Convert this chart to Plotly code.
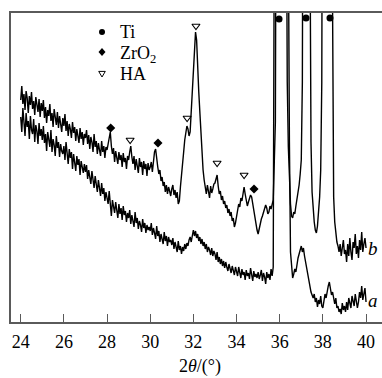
import plotly.graph_objects as go

# 2theta sampling grid (degrees): 24.00 ... 40.00 in 0.05 steps
two_theta = [round(24.0 + 0.05 * i, 2) for i in range(321)]

# Curve a (lower), intensity (a.u.), one row per degree
curve_a = (
    [205, 190, 214, 198, 186, 209, 195, 201, 183, 206, 192, 188, 203, 180, 197, 191, 178, 199, 186, 193]  # 24
    + [182, 196, 179, 188, 171, 190, 184, 175, 192, 170, 183, 177, 166, 186, 174, 180, 165, 178, 171, 168]  # 25
    + [176, 162, 180, 167, 158, 173, 164, 170, 153, 168, 160, 151, 166, 157, 163, 147, 161, 154, 149, 158]  # 26
    + [150, 157, 143, 152, 146, 138, 151, 141, 134, 146, 137, 130, 142, 133, 126, 139, 128, 134, 121, 130]  # 27
    + [124, 118, 131, 113, 106, 122, 115, 109, 120, 111, 104, 118, 108, 114, 102, 116, 107, 111, 100, 109]  # 28
    + [104, 112, 98, 107, 101, 95, 110, 99, 104, 93, 101, 97, 90, 103, 94, 99, 89, 97, 92, 95]  # 29
    + [91, 99, 87, 94, 89, 83, 96, 86, 91, 80, 88, 84, 78, 90, 81, 86, 76, 85, 80, 82]  # 30
    + [77, 84, 73, 80, 75, 70, 81, 72, 76, 68, 75, 71, 78, 73, 79, 76, 82, 85, 80, 88]  # 31
    + [92, 86, 91, 84, 88, 81, 85, 78, 83, 76, 80, 73, 78, 70, 75, 72, 67, 74, 66, 71]  # 32
    + [68, 62, 70, 60, 65, 58, 63, 56, 61, 54, 60, 55, 51, 58, 53, 49, 56, 52, 47, 55]  # 33
    + [51, 46, 55, 48, 44, 53, 47, 50, 42, 52, 46, 49, 43, 54, 47, 41, 51, 45, 48, 44]  # 34
    + [50, 43, 47, 52, 41, 49, 45, 38, 50, 44, 48, 42, 53, 46, 55, 400, 1200, 2000, 2600, 2900]  # 35
    + [3000, 2900, 2700, 2400, 2000, 1500, 1000, 600, 360, 180, 70, 52, 44, 48, 53, 50, 60, 64, 68, 72]  # 36
    + [76, 70, 74, 66, 60, 52, 45, 40, 36, 30, 27, 24, 28, 20, 24, 15, 22, 18, 26, 16]  # 37
    + [14, 22, 28, 24, 32, 36, 40, 33, 27, 30, 22, 18, 24, 14, 16, 10, 13, 8, 19, 12]  # 38
    + [16, 10, 20, 12, 24, 18, 14, 26, 20, 16, 28, 22, 14, 20, 30, 24, 36, 22, 28, 34]  # 39
    + [20]  # 40
)

# Curve b (upper)
curve_b = (
    [222, 236, 218, 228, 212, 231, 224, 209, 226, 217, 230, 213, 221, 207, 225, 216, 210, 223, 205, 219]  # 24
    + [211, 222, 204, 215, 199, 212, 206, 218, 201, 209, 195, 213, 203, 197, 210, 194, 206, 199, 190, 204]  # 25
    + [196, 208, 191, 201, 186, 198, 193, 184, 200, 189, 195, 181, 193, 186, 179, 194, 183, 190, 177, 188]  # 26
    + [184, 192, 178, 187, 173, 185, 180, 170, 188, 175, 181, 168, 179, 172, 166, 181, 170, 176, 164, 175]  # 27
    + [172, 178, 186, 190, 176, 168, 174, 160, 171, 165, 158, 170, 162, 167, 155, 169, 160, 164, 153, 166]  # 28
    + [162, 170, 176, 165, 158, 166, 152, 163, 157, 149, 164, 155, 160, 147, 161, 153, 158, 146, 159, 152]  # 29
    + [155, 160, 150, 163, 170, 173, 162, 155, 148, 152, 141, 145, 136, 140, 130, 137, 128, 135, 131, 126]  # 30
    + [133, 137, 127, 132, 124, 130, 118, 121, 135, 145, 158, 170, 182, 190, 196, 193, 186, 190, 212, 232]  # 31
    + [252, 272, 290, 282, 250, 230, 210, 188, 170, 152, 142, 133, 128, 137, 131, 124, 136, 129, 133, 138]  # 32
    + [139, 144, 147, 136, 128, 131, 122, 126, 118, 121, 114, 117, 109, 113, 106, 110, 101, 104, 95, 99]  # 33
    + [106, 112, 118, 115, 124, 121, 130, 135, 128, 122, 116, 120, 123, 127, 125, 118, 112, 104, 96, 92]  # 34
    + [88, 94, 97, 103, 106, 110, 112, 117, 114, 108, 110, 116, 113, 118, 122, 160, 200, 600, 1400, 2200]  # 35
    + [2700, 2900, 2800, 2300, 1600, 1000, 500, 240, 175, 140, 118, 106, 104, 110, 108, 116, 122, 128, 137, 148]  # 36
    + [162, 240, 700, 1400, 1600, 1500, 1200, 800, 400, 180, 130, 110, 100, 92, 89, 96, 107, 125, 152, 240]  # 37
    + [700, 1300, 1600, 1700, 1600, 1400, 1100, 800, 500, 250, 125, 100, 88, 80, 76, 70, 78, 66, 74, 82]  # 38
    + [68, 72, 60, 78, 66, 84, 70, 62, 80, 74, 88, 68, 76, 64, 82, 72, 90, 70, 78, 84]  # 39
    + [74]  # 40
)

# Phase markers (position, height)
ti_x = [35.97, 37.22, 38.33]
ti_y = [303, 304, 304]
zro2_x = [28.17, 30.36, 34.81]
zro2_y = [194, 179, 133]
ha_x = [29.07, 31.71, 32.12, 33.10, 34.35]
ha_y = [182, 204, 296, 159, 147]

# In-plot legend (paper coordinates)
legend_names = ["Ti", "ZrO<sub>2</sub>", "HA"]
legend_key_y = [0.9385, 0.8738, 0.8026]
legend_text_y = [0.9385, 0.8673, 0.8026]
LEGEND_KEY_X = 0.2453
LEGEND_TEXT_X = 0.2884

curve_labels = ["a", "b"]
label_x = [40.33, 40.33]
label_y = [22, 74]

x_ticks = [24, 26, 28, 30, 32, 34, 36, 38, 40]
x_title = "2<i>θ</i>/(°)"

SERIF = "Liberation Serif"
AXIS_COLOR = "#5a5a5a"

fig = go.Figure()
for cy in (curve_a, curve_b):
    fig.add_trace(go.Scatter(x=two_theta, y=cy, mode="lines",
                             line=dict(color="black", width=1.4),
                             showlegend=False, hoverinfo="skip"))

fig.add_trace(go.Scatter(x=ti_x, y=ti_y, mode="markers", showlegend=False,
                         marker=dict(symbol="circle", size=7, color="black"),
                         cliponaxis=False))
fig.add_trace(go.Scatter(x=zro2_x, y=zro2_y, mode="markers", showlegend=False,
                         marker=dict(symbol="diamond", size=7, color="black"),
                         cliponaxis=False))
fig.add_trace(go.Scatter(x=ha_x, y=ha_y, mode="markers", showlegend=False,
                         marker=dict(symbol="triangle-down-open", size=7,
                                     color="black", line=dict(width=1.1, color="black")),
                         cliponaxis=False))

# legend keys as pixel-sized shapes anchored in paper coordinates
key_common = dict(xref="paper", yref="paper", xsizemode="pixel", ysizemode="pixel",
                  xanchor=LEGEND_KEY_X)
fig.add_shape(type="circle", x0=-3, x1=3, y0=-3, y1=3, yanchor=legend_key_y[0],
              fillcolor="black", line=dict(width=0), **key_common)
fig.add_shape(type="path", path="M0,4 L3.5,0 L0,-4 L-3.5,0 Z", yanchor=legend_key_y[1],
              fillcolor="black", line=dict(width=0), **key_common)
fig.add_shape(type="path", path="M-3.3,2.6 L3.3,2.6 L0,-3 Z", yanchor=legend_key_y[2],
              fillcolor="white", line=dict(width=1, color="black"), **key_common)

for name, ty in zip(legend_names, legend_text_y):
    fig.add_annotation(xref="paper", yref="paper", x=LEGEND_TEXT_X, y=ty, text=name,
                       showarrow=False, xanchor="left", yanchor="middle",
                       font=dict(family=SERIF, size=18, color="black"))

for t, lx, ly in zip(curve_labels, label_x, label_y):
    fig.add_annotation(x=lx, y=ly, text=f"<i>{t}</i>", showarrow=False,
                       xanchor="center", yanchor="middle",
                       font=dict(family=SERIF, size=19, color="black"))

# x-axis title placed as an annotation below the tick labels
fig.add_annotation(xref="paper", yref="paper", x=0.509, y=-0.1424, text=x_title,
                   showarrow=False, xanchor="center", yanchor="middle",
                   font=dict(family=SERIF, size=18, color="black"))

fig.update_layout(
    width=382, height=378,
    margin=dict(l=11, r=0, t=13, b=56),
    paper_bgcolor="white", plot_bgcolor="white",
    font=dict(family=SERIF, size=18, color="black"),
    showlegend=False,
)
fig.update_xaxes(range=[23.55, 40.74], tickvals=x_ticks,
                 ticks="inside", ticklen=8, tickwidth=1.2, tickcolor=AXIS_COLOR,
                 showline=True, linecolor=AXIS_COLOR, linewidth=2, mirror=True,
                 showgrid=False, zeroline=False, automargin=False,
                 ticklabelstandoff=2,
                 tickfont=dict(family=SERIF, size=18, color="black"))
fig.update_yaxes(range=[0, 309], showticklabels=False, ticks="",
                 showline=True, linecolor=AXIS_COLOR, linewidth=2,
                 showgrid=False, zeroline=False, automargin=False)

fig.write_html("out.html")
